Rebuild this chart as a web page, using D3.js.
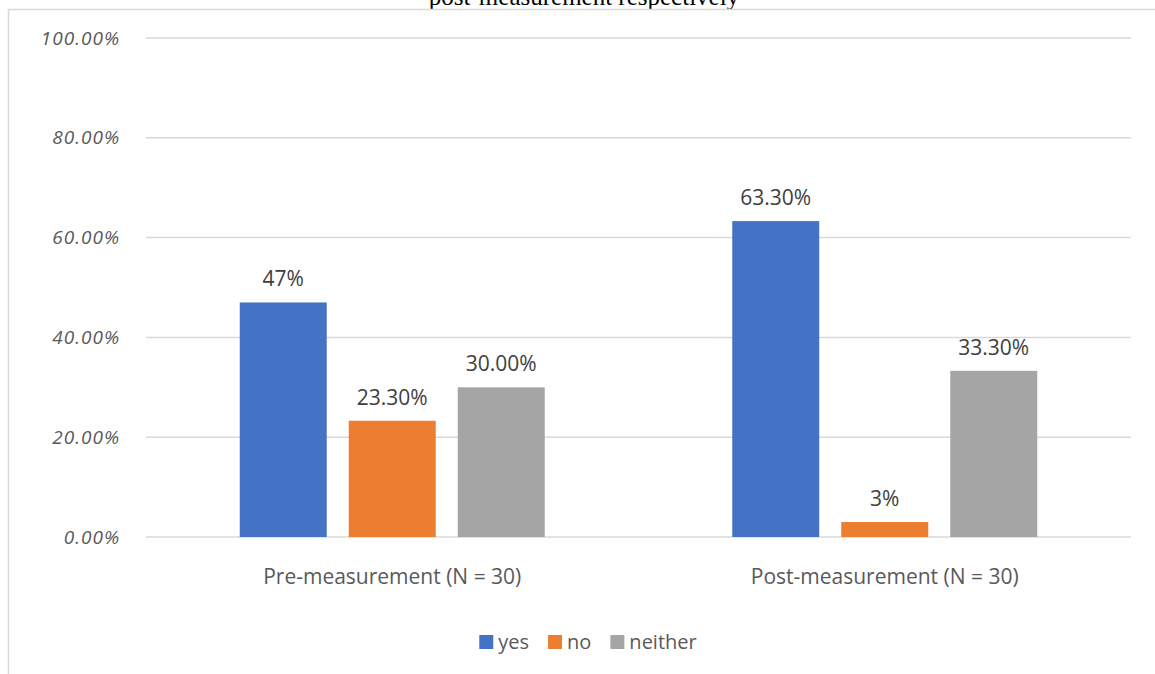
<!DOCTYPE html>
<html>
<head>
<meta charset="utf-8">
<script src="https://cdn.jsdelivr.net/npm/d3@7"></script>
<style>
  body { margin: 0; background: #fff; }
  svg { display: block; font-family: "Open Sans", sans-serif; }
</style>
</head>
<body>
<div id="chart"></div>
<script>
// data
const categories = ["Pre-measurement (N = 30)", "Post-measurement (N = 30)"];
const seriesNames = ["yes", "no", "neither"];
const yesValues = [0.47, 0.633];
const noValues = [0.233, 0.03];
const neitherValues = [0.30, 0.333];
const valueLabels = [["47%", "23.30%", "30.00%"], ["63.30%", "3%", "33.30%"]];
const yTicks = [0, 0.2, 0.4, 0.6, 0.8, 1.0];
const colors = ["#4472C4", "#ED7D31", "#A5A5A5"];

const width = 1155, height = 674;
const margin = {top: 38, right: 24, bottom: 137, left: 146};

const svg = d3.select("#chart").append("svg")
    .attr("width", width)
    .attr("height", height);

svg.append("rect").attr("width", width).attr("height", height).attr("fill", "#fff");

// title of the source figure, only its lower part shows above the frame
svg.append("text")
    .attr("x", 584)
    .attr("y", 5)
    .attr("text-anchor", "middle")
    .style("font-family", "'Liberation Serif', serif")
    .style("font-size", "25px")
    .attr("fill", "#000")
    .text("post-measurement respectively");

// chart frame
svg.append("rect")
    .attr("x", 8.5).attr("y", 9.5)
    .attr("width", width + 20).attr("height", height + 20)
    .attr("fill", "none")
    .attr("stroke", "#d9d9d9")
    .attr("stroke-width", 1.5);

const x0 = d3.scaleBand()
    .domain(categories)
    .range([margin.left, width - margin.right]);

const x1 = d3.scaleBand()
    .domain(seriesNames)
    .range([0, x0.bandwidth()])
    .paddingInner(0.202)
    .paddingOuter(0.86);

const y = d3.scaleLinear()
    .domain([0, 1])
    .range([height - margin.bottom, margin.top]);

// gridlines
svg.append("g").selectAll("line")
    .data(yTicks)
    .join("line")
    .attr("x1", margin.left)
    .attr("x2", width - margin.right)
    .attr("y1", d => y(d))
    .attr("y2", d => y(d))
    .attr("stroke", "#d9d9d9")
    .attr("stroke-width", 1.5);

// y axis labels
svg.append("g").selectAll("text")
    .data(yTicks)
    .join("text")
    .attr("x", 120)
    .attr("y", d => y(d))
    .attr("dy", "0.35em")
    .attr("text-anchor", "end")
    .attr("fill", "#595959")
    .style("font-size", "19px")
    .style("font-style", "italic")
    .style("letter-spacing", "1px")
    .text(d => d3.format(".2%")(d));

// bars
const rows = categories.map((c, i) => ({
    cat: c,
    vals: [yesValues[i], noValues[i], neitherValues[i]],
    labels: valueLabels[i]
}));

const groups = svg.append("g").selectAll("g")
    .data(rows)
    .join("g")
    .attr("transform", d => `translate(${x0(d.cat)},0)`);

groups.selectAll("rect")
    .data(d => d.vals.map((v, j) => ({name: seriesNames[j], v: v, j: j})))
    .join("rect")
    .attr("x", d => x1(d.name))
    .attr("y", d => y(d.v))
    .attr("width", x1.bandwidth())
    .attr("height", d => y(0) - y(d.v))
    .attr("fill", d => colors[d.j]);

groups.selectAll("text")
    .data(d => d.vals.map((v, j) => ({name: seriesNames[j], v: v, label: d.labels[j]})))
    .join("text")
    .attr("x", d => x1(d.name) + x1.bandwidth() / 2)
    .attr("y", d => y(d.v) - 16)
    .attr("text-anchor", "middle")
    .attr("fill", "#404040")
    .style("font-size", "21px")
    .text(d => d.label);

// category labels
svg.append("g").selectAll("text")
    .data(categories)
    .join("text")
    .attr("x", d => x0(d) + x0.bandwidth() / 2)
    .attr("y", 577)
    .attr("dy", "0.35em")
    .attr("text-anchor", "middle")
    .attr("fill", "#595959")
    .style("font-size", "21px")
    .text(d => d);

// legend
const legend = svg.append("g");
let lx = 0;
seriesNames.forEach((s, i) => {
    const item = legend.append("g").attr("transform", `translate(${lx},0)`);
    item.append("rect")
        .attr("x", 0).attr("y", -7)
        .attr("width", 14).attr("height", 14)
        .attr("fill", colors[i]);
    const t = item.append("text")
        .attr("x", 19)
        .attr("dy", "0.35em")
        .attr("fill", "#595959")
        .style("font-size", "20px")
        .text(s);
    lx += 19 + t.node().getComputedTextLength() + 19;
});
const legendW = lx - 19;
legend.attr("transform", `translate(${588 - legendW / 2},642)`);
</script>
</body>
</html>
